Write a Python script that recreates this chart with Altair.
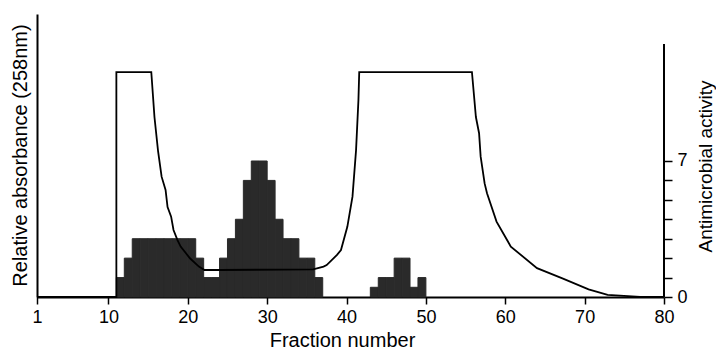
import altair as alt
import pandas as pd

# Antimicrobial activity per fraction (bar spans fraction -> fraction+1)
fraction_start = [11, 12, 13, 14, 15, 16, 17, 18, 19, 20, 21, 22, 23, 24, 25, 26,
                  27, 28, 29, 30, 31, 32, 33, 34, 35, 36, 43, 44, 45, 46, 47, 48, 49]
activity = [1, 2, 3, 3, 3, 3, 3, 3, 3, 3, 2, 1, 1, 2, 3, 4,
            6, 7, 7, 6, 4, 3, 3, 2, 2, 1, 0.5, 1, 1, 2, 2, 0.5, 1]

# Relative absorbance (258 nm) trace
abs_fraction = [1, 11, 11, 15.4, 15.8, 16.25, 16.7, 17.2, 17.45, 17.9,
                18.2, 18.7, 19.1, 20.3, 21.4, 22.1, 24.0, 35.8, 37.1, 37.5,
                38.8, 39.3, 40.1, 40.75, 41.2, 41.5, 41.6, 55.8, 56.3, 56.7,
                56.9, 57.4, 57.7, 58.9, 60.7, 64.0, 67.2, 70.5, 72.9, 77.0, 80]
abs_value = [0, 0, 1.0, 1.0, 0.80, 0.65, 0.535, 0.476, 0.40, 0.357,
             0.298, 0.253, 0.224, 0.171, 0.135, 0.12, 0.12, 0.123, 0.135, 0.142,
             0.187, 0.209, 0.312, 0.446, 0.653, 0.876, 1.0, 1.0, 0.80, 0.728,
             0.624, 0.505, 0.461, 0.335, 0.224, 0.128, 0.083, 0.034, 0.009, 0.001, 0]

x_ticks = [1, 10, 20, 30, 40, 50, 60, 70, 80]
right_ticks = [0, 1, 2, 3, 4, 5, 6, 7]

bars_df = pd.DataFrame({
    "start": fraction_start,
    "end": [f + 1 for f in fraction_start],
    "activity": activity,
})
line_df = pd.DataFrame({
    "fraction": abs_fraction,
    "absorbance": abs_value,
    "i": list(range(len(abs_fraction))),
})

FONT = "Liberation Sans"

x_scale = alt.Scale(domain=[1, 80], nice=False, zero=False)
x_axis = alt.Axis(
    values=x_ticks, title="Fraction number", labelFontSize=18, tickSize=7,
    tickWidth=1.5, domainWidth=2, labelPadding=4, labelFlush=False,
    labelOverlap=False, titleFontSize=20, titleFontWeight="normal",
    titleX=305, titleY=43, titleBaseline="middle", titleAlign="center",
    grid=False,
)

bars = alt.Chart(bars_df).mark_rect(
    color="#2a2a2a", stroke="#2a2a2a", strokeWidth=1
).encode(
    x=alt.X("start:Q", scale=x_scale, axis=x_axis),
    x2="end:Q",
    y=alt.Y(
        "activity:Q",
        scale=alt.Scale(domain=[0, 14.565], nice=False),
        axis=alt.Axis(
            orient="right", values=right_ticks, title="Antimicrobial activity",
            labelExpr="datum.value == 0 || datum.value == 7 ? datum.label : ''",
            labelFontSize=18, tickSize=8, tickWidth=1.5, labelPadding=5,
            domain=False, grid=False, titleFontSize=19,
            titleFontWeight="normal", titleAngle=270, titleX=41, titleY=152,
            titleBaseline="middle", titleAlign="center",
        ),
    ),
    y2=alt.Y2Datum(0),
)

right_rule = alt.Chart(bars_df).mark_rule(color="black", strokeWidth=2).encode(
    x=alt.XDatum(80),
    y=alt.YDatum(0),
    y2=alt.Y2Datum(13),
)

right_layer = alt.layer(bars, right_rule)

line = alt.Chart(line_df).mark_line(color="black", strokeWidth=1.8).encode(
    x=alt.X("fraction:Q", scale=x_scale, axis=x_axis),
    y=alt.Y(
        "absorbance:Q",
        scale=alt.Scale(domain=[0, 1.258], nice=False),
        axis=alt.Axis(
            orient="left", title="Relative absorbance (258nm)", ticks=False,
            labels=False, domainWidth=2, grid=False, titleFontSize=20,
            titleFontWeight="normal", titleAngle=270, titleX=-17, titleY=141,
            titleBaseline="middle", titleAlign="center",
        ),
    ),
    order="i:Q",
)

chart = alt.layer(right_layer, line).resolve_scale(y="independent").properties(
    width=627,
    height=283,
    autosize=alt.AutoSizeParams(type="none"),
    padding={"left": 29, "top": 6, "right": 52, "bottom": 55},
).configure_axis(
    labelFont=FONT, titleFont=FONT, labelColor="black", titleColor="black",
    domainColor="black", tickColor="black",
).configure_view(stroke=None)

chart.save("out.html", embed_options={"renderer": "svg", "actions": False})
